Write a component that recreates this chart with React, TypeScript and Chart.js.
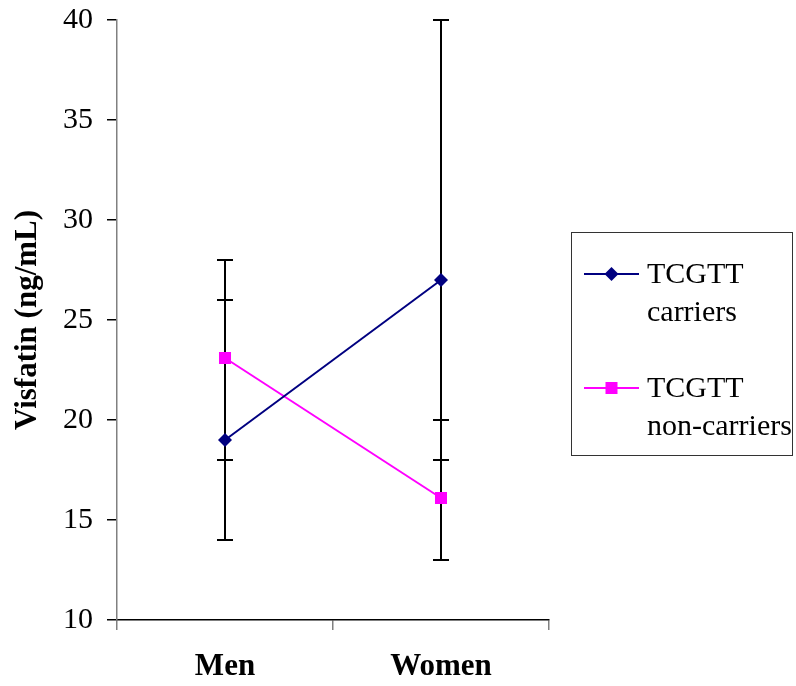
import React, { useEffect, useRef } from "react";
import { Chart, registerables } from "chart.js";

Chart.register(...registerables);

// Groups on the x axis
const categories = ["Men", "Women"];

// Visfatin (ng/mL) per group
const carriers = [19, 27];
const nonCarriers = [23.1, 16.1];

// Error bar extents (lower / upper)
const carriersLow = [14, 18];
const carriersHigh = [28, 40];
const nonCarriersLow = [18, 13];
const nonCarriersHigh = [26, 20];

// Y axis range and tick step
const yMin = 10;
const yMax = 40;
const yStep = 5;

const seriesNames = [
  ["TCGTT", "carriers"],
  ["TCGTT", "non-carriers"],
];

const NAVY = "#000080";
const MAGENTA = "#FF00FF";
const SERIF = "'Liberation Serif', 'Times New Roman', serif";

const errorBarPlugin = {
  id: "errorBars",
  beforeDatasetsDraw(chart: any) {
    const { ctx, scales } = chart;
    const x = scales.x;
    const y = scales.y;
    const ranges = [
      [carriersLow, carriersHigh],
      [nonCarriersLow, nonCarriersHigh],
    ];
    ctx.save();
    ctx.strokeStyle = "#000000";
    ctx.lineWidth = 2;
    ranges.forEach(([lo, hi]) => {
      lo.forEach((low: number, i: number) => {
        const px = Math.round(x.getPixelForValue(i));
        const yl = y.getPixelForValue(low);
        const yh = y.getPixelForValue(hi[i]);
        ctx.beginPath();
        ctx.moveTo(px, yl);
        ctx.lineTo(px, yh);
        ctx.moveTo(px - 8, yl);
        ctx.lineTo(px + 8, yl);
        ctx.moveTo(px - 8, yh);
        ctx.lineTo(px + 8, yh);
        ctx.stroke();
      });
    });
    ctx.restore();
  },
};

const legendBoxPlugin = {
  id: "legendBox",
  afterDraw(chart: any) {
    const { ctx } = chart;
    const boxL = 571.5;
    const boxT = 232.5;
    const boxW = 221;
    const boxH = 223;
    ctx.save();
    ctx.strokeStyle = "#333333";
    ctx.lineWidth = 1;
    ctx.strokeRect(boxL, boxT, boxW, boxH);

    const items = [
      { color: NAVY, style: "diamond", lineY: 274, base: 283 },
      { color: MAGENTA, style: "square", lineY: 388, base: 397 },
    ];
    items.forEach((it, idx) => {
      ctx.strokeStyle = it.color;
      ctx.lineWidth = 2;
      ctx.beginPath();
      ctx.moveTo(584, it.lineY);
      ctx.lineTo(639, it.lineY);
      ctx.stroke();
      ctx.fillStyle = it.color;
      const cx = 611.5;
      const cy = it.lineY;
      ctx.beginPath();
      if (it.style === "diamond") {
        ctx.moveTo(cx, cy - 7);
        ctx.lineTo(cx + 7, cy);
        ctx.lineTo(cx, cy + 7);
        ctx.lineTo(cx - 7, cy);
        ctx.closePath();
      } else {
        ctx.rect(cx - 6, cy - 6, 12, 12);
      }
      ctx.fill();

      ctx.fillStyle = "#000000";
      ctx.font = `30px ${SERIF}`;
      ctx.textBaseline = "alphabetic";
      ctx.textAlign = "left";
      ctx.fillText(seriesNames[idx][0], 647, it.base);
      ctx.fillText(seriesNames[idx][1], 647, it.base + 38);
    });
    ctx.restore();
  },
};

export default function App() {
  const canvasRef = useRef<HTMLCanvasElement | null>(null);

  useEffect(() => {
    if (!canvasRef.current) return;
    const chart = new Chart(canvasRef.current, {
      type: "line",
      data: {
        labels: categories,
        datasets: [
          {
            label: seriesNames[0].join(" "),
            data: carriers,
            borderColor: NAVY,
            backgroundColor: NAVY,
            borderWidth: 2,
            pointStyle: "rectRot",
            pointRadius: 7,
            pointBorderWidth: 0,
            pointBackgroundColor: NAVY,
            tension: 0,
          },
          {
            label: seriesNames[1].join(" "),
            data: nonCarriers,
            borderColor: MAGENTA,
            backgroundColor: MAGENTA,
            borderWidth: 2,
            pointStyle: "rect",
            pointRadius: 8.5,
            pointBorderWidth: 0,
            pointBackgroundColor: MAGENTA,
            tension: 0,
          },
        ],
      },
      options: {
        responsive: false,
        animation: false,
        devicePixelRatio: 1,
        layout: { padding: { top: 20, right: 247, bottom: 0, left: 0 } },
        plugins: {
          legend: { display: false },
          tooltip: { enabled: false },
        },
        scales: {
          x: {
            type: "category",
            offset: true,
            grid: {
              offset: true,
              drawOnChartArea: false,
              drawTicks: true,
              tickLength: 10,
              color: "#808080",
              lineWidth: 1.5,
            },
            border: { color: "#000000", width: 1.5 },
            ticks: {
              color: "#000000",
              padding: 18,
              font: { family: SERIF, size: 31, weight: "bold" },
            },
            afterFit(scale: any) {
              scale.height = 66;
              scale.paddingLeft = 0;
              scale.paddingRight = 0;
            },
          },
          y: {
            min: yMin,
            max: yMax,
            grid: {
              drawOnChartArea: false,
              drawTicks: true,
              tickLength: 10,
              color: "#000000",
              lineWidth: 1.5,
            },
            border: { color: "#808080", width: 1.5 },
            ticks: {
              stepSize: yStep,
              color: "#000000",
              padding: 14,
              font: { family: SERIF, size: 30 },
            },
            title: {
              display: true,
              text: "Visfatin (ng/mL)",
              color: "#000000",
              font: { family: SERIF, size: 31, weight: "bold", lineHeight: 1 },
              padding: { top: 12, bottom: 0 },
            },
            afterFit(scale: any) {
              scale.width = 117;
              scale.paddingTop = 0;
              scale.paddingBottom = 0;
            },
          },
        },
      },
      plugins: [errorBarPlugin, legendBoxPlugin],
    });
    return () => chart.destroy();
  }, []);

  return (
    <div style={{ position: "absolute", left: 0, top: 0, width: 796, height: 686, background: "#ffffff" }}>
      <canvas ref={canvasRef} width={796} height={686} />
    </div>
  );
}
